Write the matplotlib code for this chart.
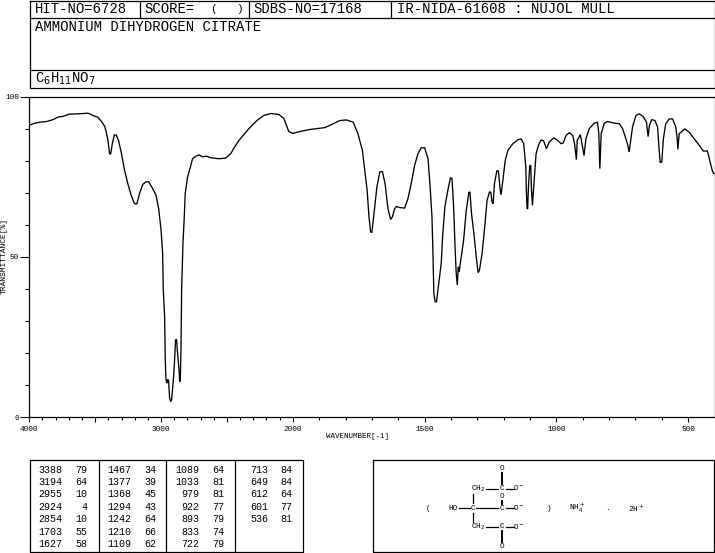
import matplotlib
matplotlib.use("Agg")
import matplotlib.pyplot as plt
import numpy as np

wavenumber = [4000,3957,3919,3869,3819,3781,3743,3698,3630,3554,3517,3479,3454,3428,3416,3403,3391,3383,3370,3355,3340,3323,3303,3277,3252,3227,3202,3184,3164,3139,3114,3094,3068,3038,3018,3000,2988,2983,2973,2968,2963,2955,2950,2943,2935,2927,2920,2907,2900,2890,2882,2877,2870,2862,2859,2854,2849,2844,2834,2824,2817,2799,2781,2761,2736,2711,2686,2655,2623,2560,2509,2471,2446,2409,2333,2273,2220,2167,2107,2069,2031,2000,1973,1936,1879,1852,1822,
1797,1771,1753,1736,1727,1718,1711,1705,1700,1692,1681,1670,1660,1650,1639,1629,1622,1614,1607,1595,1576,1563,1551,1538,1525,1513,1500,1487,1479,1472,1468,1465,1460,1455,1448,1437,1431,1423,1412,1402,1396,1390,1384,1380,1376,1372,1369,1361,1352,1342,1332,1328,1322,1313,1304,1297,1292,1282,1272,1263,1254,1249,1244,1240,1235,1226,1220,1213,1210,1203,1194,1184,1165,1146,1134,1124,1116,1114,1111,1109,1106,1101,1097,1095,1091,1087,1077,1068,
1058,1048,1038,1027,1010,995,982,974,963,951,938,931,924,921,909,903,895,888,875,856,844,839,835,830,818,806,780,761,749,736,729,724,719,711,698,686,671,658,652,647,638,626,616,610,606,600,594,585,572,559,547,542,539,534,522,513,496,477,458,443,427,418,408,404,400]
transmittance = [91.1,91.7,92.0,92.2,92.8,93.6,93.8,94.5,94.6,94.8,94.1,93.5,92.3,90.7,88.9,86.3,82.2,82.0,85.3,88.0,88.0,86.3,82.7,77.0,72.8,69.2,66.6,66.5,69.7,72.6,73.4,73.4,71.6,69.2,65.0,58.3,51.0,39.6,31.3,17.8,11.8,10.6,11.8,11.4,5.9,4.9,5.4,11.6,15.8,24.1,24.3,21.0,17.8,13.7,11.1,11.6,21.0,39.6,54.1,62.4,69.7,74.9,77.5,80.6,81.4,81.8,81.2,81.4,80.9,80.6,80.8,82.2,84.0,86.3,90.0,92.5,94.1,94.7,94.4,93.2,89.1,88.5,89.1,89.7,90.3,91.3,92.5,
92.7,92.0,88.4,83.2,77.0,70.7,62.4,57.8,57.6,63.5,71.8,76.5,76.6,72.8,65.0,61.7,62.5,65.0,65.7,65.4,65.2,68.2,72.8,78.5,82.2,84.0,84.0,80.6,71.8,62.4,50.0,38.6,36.0,36.0,40.7,47.9,57.3,65.6,70.7,74.7,74.4,65.6,52.1,44.8,41.2,46.9,45.3,50.0,55.2,64.5,70.2,70.2,63.5,57.3,50.0,45.1,45.8,51.0,59.3,67.6,70.2,70.2,67.1,66.6,72.8,76.8,76.8,70.7,69.4,73.9,80.1,83.2,85.3,86.5,86.8,85.3,78.0,70.7,65.0,65.0,71.8,78.5,78.5,71.8,66.1,70.7,82.2,84.8,
86.5,86.1,83.7,85.8,87.1,86.3,85.3,85.5,87.9,88.7,87.9,85.3,80.3,86.3,88.1,85.3,81.6,86.8,90.0,91.7,92.0,88.4,77.5,88.4,91.7,92.2,91.7,91.5,90.0,86.8,84.8,82.7,85.8,90.5,94.1,94.6,93.8,92.0,87.5,91.0,92.8,92.5,90.5,83.2,79.4,79.6,86.8,91.5,93.0,93.0,90.5,87.3,83.5,88.4,89.2,89.9,88.9,86.8,84.8,83.0,83.0,80.1,76.8,76.1,76.0]

x_ticks_major = [4000,3000,2000,1500,1000,500]
x_ticks_long = [4000,3500,3000,2500,2000,1500,1000,500]
y_tick_labels = [0,50,100]

peak_col1 = [("3388",79),("3194",64),("2955",10),("2924",4),("2854",10),("1703",55),("1627",58)]
peak_col2 = [("1467",34),("1377",39),("1368",45),("1294",43),("1242",64),("1210",66),("1109",62)]
peak_col3 = [("1089",64),("1033",81),("979",81),("922",77),("893",79),("833",74),("722",79)]
peak_col4 = [("713",84),("649",84),("612",64),("601",77),("536",81)]

W, H = 715, 553
FONT = "Liberation Mono"
fig = plt.figure(figsize=(W/100, H/100), dpi=100, facecolor="white")

# layout overlay in pixel coordinates
ov = fig.add_axes([0, 0, 1, 1], zorder=0)
ov.set_xlim(0, W); ov.set_ylim(H, 0); ov.axis("off")

def box(x0, y0, x1, y1):
    ov.plot([x0, x1, x1, x0, x0], [y0, y0, y1, y1, y0], color="k", lw=0.9, clip_on=False)

def line(x0, y0, x1, y1, lw=0.9):
    ov.plot([x0, x1], [y0, y1], color="k", lw=lw)

def txt(x, y, s, size=10, ha="left", **kw):
    ov.text(x, y, s, fontsize=size, family=FONT, ha=ha, va="center", color="k", **kw)

# header
box(29.5, 0.5, 714.5, 87.5)
line(29.5, 17.5, 714.5, 17.5)
line(29.5, 69.5, 714.5, 69.5)
for xd in (140, 248.5, 391):
    line(xd, 0.5, xd, 17.5)
txt(35, 9, "HIT-NO=6728")
txt(144, 9, "SCORE=")
txt(213, 9, "(", ha="center", size=8)
txt(240, 9, ")", ha="center", size=8)
txt(253, 9, "SDBS-NO=17168")
txt(397, 9, "IR-NIDA-61608 : NUJOL MULL")
txt(35, 27, "AMMONIUM DIHYDROGEN CITRATE")
txt(35, 79, "C$_6$H$_{11}$NO$_7$", math_fontfamily="dejavusans")

# spectrum axes, with the usual compressed scale above 2000 cm-1
L, R, T, B = 29.3, 714.5, 96.5, 417.3
ax = fig.add_axes([L/W, 1-B/H, (R-L)/W, (B-T)/H], zorder=2)
ax.patch.set_alpha(0)

def fwd(v):
    v = np.asarray(v, dtype=float)
    return np.where(v >= 2000, 2000+(v-2000)*0.5, v)

def inv(u):
    u = np.asarray(u, dtype=float)
    return np.where(u >= 2000, 2000+(u-2000)*2, u)

ax.set_xscale("function", functions=(fwd, inv))
ax.set_xlim(4000, 400)
ax.set_ylim(0, 100)
ax.plot(wavenumber, transmittance, color="k", lw=0.95, solid_joinstyle="miter")
ax.set_xticks(x_ticks_long)
ax.set_xticklabels([str(v) if v in x_ticks_major else "" for v in x_ticks_long], fontsize=5.6, family=FONT)
minor = [v for v in range(500, 4000, 100) if v not in x_ticks_long]
ax.set_xticks(minor, minor=True)
ax.set_yticks(y_tick_labels)
ax.set_yticklabels([str(v) for v in y_tick_labels], fontsize=5.6, family=FONT)
ax.set_yticks(range(0, 101, 10), minor=True)
ax.tick_params(axis="x", which="major", length=3.8, width=0.8, pad=2.5)
ax.tick_params(axis="x", which="minor", length=2, width=0.8)
ax.tick_params(axis="y", which="major", length=6.4, width=0.8, pad=1)
ax.tick_params(axis="y", which="minor", length=2.9, width=0.8)
for s in ax.spines.values():
    s.set_linewidth(0.9)
txt(358, 437, "WAVENUMBER[-1]", size=5.4, ha="center")
ov.text(4.5, 256, "TRANSMITTANCE[%]", fontsize=5.8, family=FONT, rotation=90, ha="center", va="center")

# peak table
box(29.5, 460, 303, 552)
for xd in (99, 166, 235):
    line(xd, 460, xd, 552)
rows_y = [470, 482, 494, 507, 519, 532, 544]
cols = [(peak_col1, 62.5, 87), (peak_col2, 131, 156), (peak_col3, 199, 224), (peak_col4, 268, 292)]
for col, xa, xb in cols:
    for (wn, tr), y in zip(col, rows_y):
        txt(xa, y, wn, size=7.2, ha="right")
        txt(xb, y, str(tr), size=7.2, ha="right")

# structure
box(372.5, 460, 714, 552)
S = 5.6
for x, y, s in [(428,508,"("),(453,508,"HO"),(473,508,"C"),(502,508,"C"),(519,508,"O$^-$"),
                (478,488.5,"CH$_2$"),(502,488.5,"C"),(519,488.5,"O$^-$"),(502,469,"O"),(502,497,"O"),
                (478,527,"CH$_2$"),(502,527,"C"),(519,527,"O$^-$"),(502,546,"O"),(549,508,")"),
                (577,508,"NH$_4^+$"),(607,508,"."),(636,508,"2H$^+$")]:
    ov.text(x, y, s, fontsize=S, family=FONT, ha="center", va="center", math_fontfamily="dejavusans")
for seg in [(459,508,470,508),(476,508,498,508),(506,508,514,508),(486,488.5,498,488.5),(506,488.5,514,488.5),
            (486,527,498,527),(506,527,514,527),(473,494,473,503),(473,513,473,522)]:
    line(*seg)
for seg in [(502,473,502,484),(502,501,502,504),(502,531,502,542)]:
    line(*seg, lw=1.4)

fig.savefig("out.png", dpi=100)
